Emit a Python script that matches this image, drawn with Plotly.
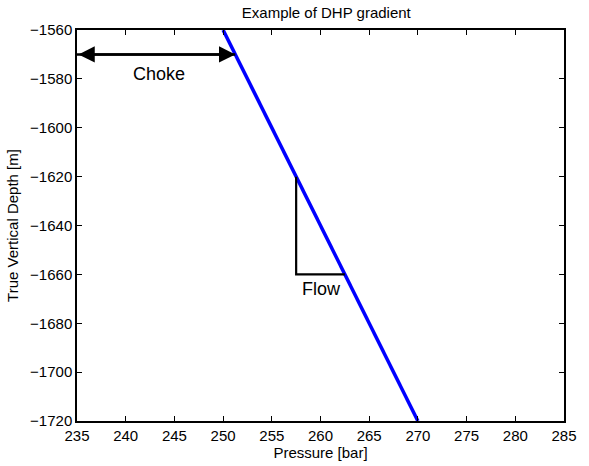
import plotly.graph_objects as go

# data
line_pressure = [250, 270]
line_depth = [-1560, -1720]
choke_pressure = [235, 251.25]
choke_depth = [-1570, -1570]
flow_pressure = [257.5, 257.5, 262.5]
flow_depth = [-1620, -1660, -1660]
labels = ["Choke", "Flow"]
label_pressure = [243.4, 260.1]
label_depth = [-1578, -1666]
x_ticks = list(range(235, 286, 5))
y_ticks = list(range(-1720, -1559, 20))

font = "Liberation Sans, Arial, Helvetica, sans-serif"

fig = go.Figure()
fig.add_trace(go.Scatter(x=line_pressure, y=line_depth, mode="lines",
                         line=dict(color="#0000ff", width=3.5), showlegend=False))
fig.add_trace(go.Scatter(x=flow_pressure, y=flow_depth, mode="lines",
                         line=dict(color="black", width=2.2), showlegend=False))
fig.add_trace(go.Scatter(x=choke_pressure, y=choke_depth, mode="lines",
                         line=dict(color="black", width=2.5), showlegend=False))

# arrowheads at both ends of the choke line
fig.add_annotation(x=choke_pressure[1], y=choke_depth[1], ax=choke_pressure[0], ay=choke_depth[0],
                   xref="x", yref="y", axref="x", ayref="y", text="", showarrow=True,
                   arrowhead=2, arrowside="end+start", arrowsize=1.3, arrowwidth=2.5,
                   arrowcolor="black", standoff=0, startstandoff=0)

for t, px, py in zip(labels, label_pressure, label_depth):
    fig.add_annotation(x=px, y=py, xref="x", yref="y", text=t, showarrow=False,
                       font=dict(size=18, color="black", family=font))

fig.update_layout(
    width=589, height=466,
    margin=dict(l=77, r=14, t=30, b=45),
    paper_bgcolor="white", plot_bgcolor="white",
    font=dict(family=font, size=15, color="black"),
    title=dict(text="Example of DHP gradient", x=0.554, xanchor="center",
               y=0.972, yanchor="middle", font=dict(size=15)),
    showlegend=False,
)
fig.update_xaxes(range=[235, 285], tickvals=x_ticks, ticks="inside", ticklen=5,
                 tickcolor="black", showline=True, linecolor="black", linewidth=1.5,
                 mirror="ticks", showgrid=False, zeroline=False,
                 title=dict(text="Pressure [bar]", standoff=0, font=dict(size=15)),
                 tickfont=dict(size=15))
fig.update_yaxes(range=[-1720, -1560], tickvals=y_ticks, ticks="inside", ticklen=5,
                 tickcolor="black", showline=True, linecolor="black", linewidth=1.5,
                 mirror="ticks", showgrid=False, zeroline=False,
                 title=dict(text="True Vertical Depth [m]", standoff=8, font=dict(size=15)),
                 tickfont=dict(size=15))

fig.write_html("out.html")
